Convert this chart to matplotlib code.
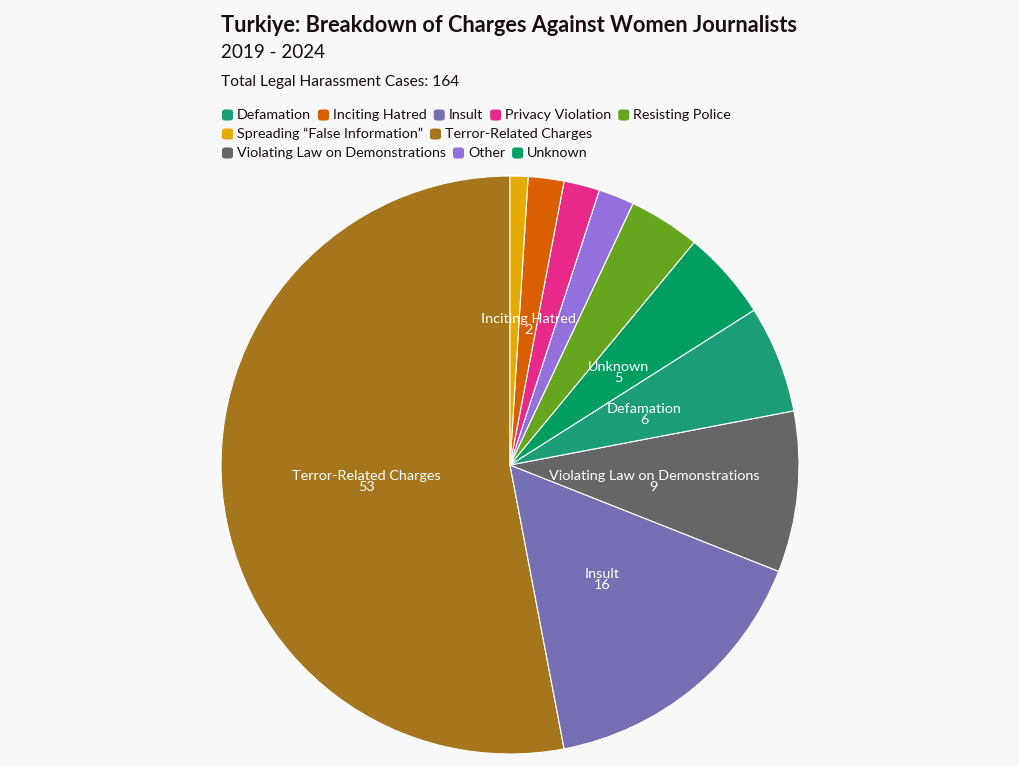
import matplotlib
matplotlib.use("Agg")
import matplotlib.pyplot as plt
from matplotlib.patches import FancyBboxPatch
import numpy as np

# ---- data ----
categories = ["Terror-Related Charges", "Insult", "Violating Law on Demonstrations",
              "Defamation", "Unknown", "Resisting Police", "Other",
              "Privacy Violation", "Inciting Hatred", "Spreading \u201cFalse Information\u201d"]
values = [53, 16, 9, 6, 5, 4, 2, 2, 2, 1]
colors = ["#a6761d", "#7570b3", "#666666", "#1b9e77", "#009e60", "#66a61e",
          "#9370db", "#e7298a", "#d95f02", "#e6ab02"]
shown_labels = ["Terror-Related Charges", "Insult", "Violating Law on Demonstrations",
                "Defamation", "Unknown", "Inciting Hatred"]
legend_rows = [["Defamation", "Inciting Hatred", "Insult", "Privacy Violation", "Resisting Police"],
               ["Spreading \u201cFalse Information\u201d", "Terror-Related Charges"],
               ["Violating Law on Demonstrations", "Other", "Unknown"]]
title = "Turkiye: Breakdown of Charges Against Women Journalists"
subtitle = "2019 - 2024"
note = "Total Legal Harassment Cases: 164"

W, H = 1020, 766
BG = "#f8f8f8"
FONT = "Lato"
plt.rcParams["font.family"] = [FONT, "DejaVu Sans"]

fig = plt.figure(figsize=(W / 100, H / 100), dpi=100, facecolor=BG)
renderer = fig.canvas.get_renderer()


def fit_size(text, target_px, weight="normal"):
    t = fig.text(0, 0, text, fontsize=10, fontweight=weight)
    w = t.get_window_extent(renderer).width
    t.remove()
    return 10 * target_px / w


def text_w(text, size, weight="normal"):
    t = fig.text(0, 0, text, fontsize=size, fontweight=weight)
    w = t.get_window_extent(renderer).width
    t.remove()
    return w


def fy(py):
    return 1 - py / H


def fx(px):
    return px / W


TXT = "#1a0d0d"
fig.text(fx(221), fy(26), title, fontsize=fit_size(title, 577, "bold"),
         fontweight="bold", color=TXT, va="center", ha="left")
fig.text(fx(221), fy(52), subtitle, fontsize=fit_size(subtitle, 104), color=TXT,
         va="center", ha="left")
fig.text(fx(221), fy(82), note, fontsize=fit_size(note, 238), color=TXT,
         va="center", ha="left")

# legend
leg_size = fit_size("Defamation", 74)
color_of = dict(zip(categories, colors))
row_y = [115, 134, 153]
for ry, row in zip(row_y, legend_rows):
    x = 222
    for name in row:
        sq = FancyBboxPatch((fx(x), fy(ry + 5.5)), fx(11), 11 / H,
                            boxstyle="round,pad=0,rounding_size=0.003",
                            transform=fig.transFigure, facecolor=color_of[name],
                            edgecolor="none")
        fig.patches.append(sq)
        fig.text(fx(x + 15), fy(ry), name, fontsize=leg_size, color=TXT,
                 va="center", ha="left")
        x += 15 + text_w(name, leg_size) + 7

# pie
cx, cy, r = 510, 465, 289
ax = fig.add_axes([fx(cx - r), 1 - (cy + r) / H, 2 * r / W, 2 * r / H])
ax.set_facecolor(BG)
wedges, _ = ax.pie(values, colors=colors, startangle=90, counterclock=True,
                   radius=1, wedgeprops=dict(edgecolor="white", linewidth=0.8))
ax.set_xlim(-1.0, 1.0)
ax.set_ylim(-1.0, 1.0)
ax.set_aspect("equal")
ax.axis("off")

lab_size = fit_size("Violating Law on Demonstrations", 211)
for w, name, v in zip(wedges, categories, values):
    if name not in shown_labels:
        continue
    ang = np.deg2rad((w.theta1 + w.theta2) / 2)
    x, y = 0.5 * np.cos(ang), 0.5 * np.sin(ang) - 0.01
    ax.text(x, y, f"{name}\n{v}", ha="center", va="center", color="white",
            fontsize=lab_size, linespacing=0.9)

fig.savefig("out.png", dpi=100, facecolor=BG)
